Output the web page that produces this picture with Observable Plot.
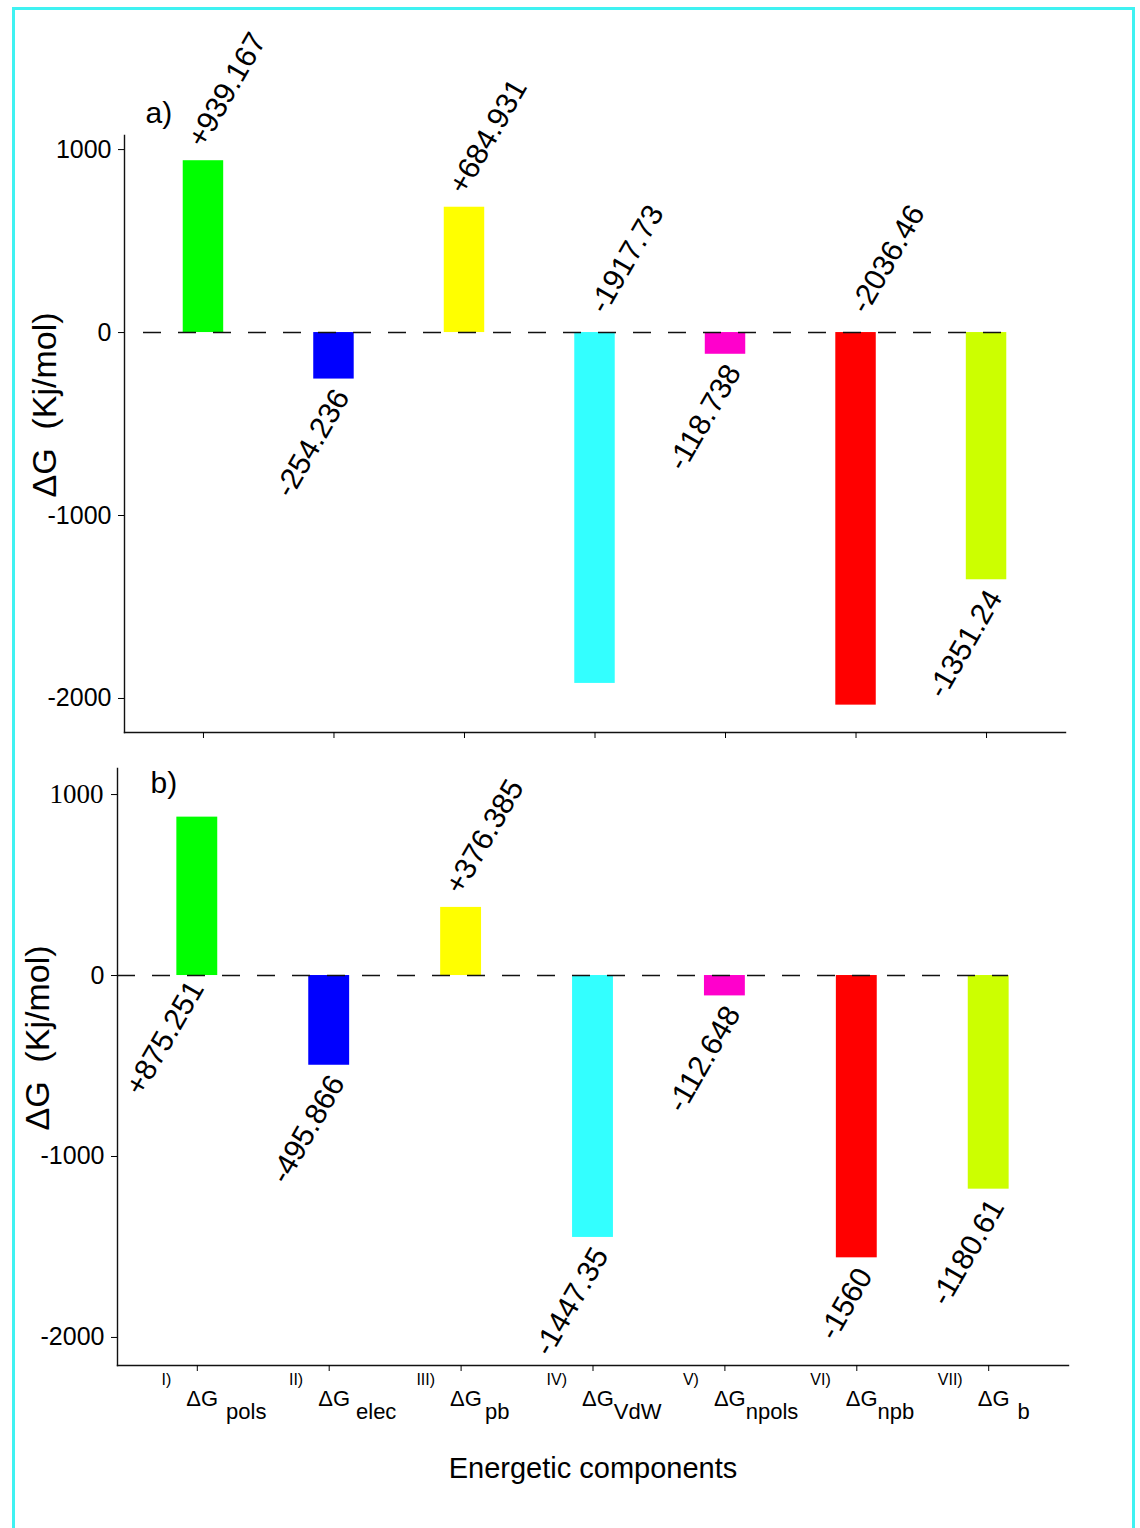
<!DOCTYPE html>
<html><head><meta charset="utf-8">
<script src="https://cdn.jsdelivr.net/npm/d3@7"></script>
<script src="https://cdn.jsdelivr.net/npm/@observablehq/plot@0.6"></script>
<style>
html,body{margin:0;padding:0;background:#fff;}
body{width:1140px;height:1528px;position:relative;overflow:hidden;}
#border{position:absolute;left:12px;top:7px;width:1123px;height:1600px;border:3px solid #3ff2f2;box-sizing:border-box;}
#pa{position:absolute;left:0;top:0;}
#pb{position:absolute;left:0;top:750px;}
svg{overflow:visible;}
</style></head><body>
<div id="border"></div>
<div id="pa"></div><div id="pb"></div>
<script>
// ---- data ----
const categories = ["pols", "elec", "pb", "VdW", "npols", "npb", "b"];
const numerals = ["I)", "II)", "III)", "IV)", "V)", "VI)", "VII)"];
const subscripts = ["pols", "elec", "pb", "VdW", "npols", "npb", "b"];
const valuesA = [939.167, -254.236, 684.931, -1917.73, -118.738, -2036.46, -1351.24];
const valuesB = [875.251, -495.866, 376.385, -1447.35, -112.648, -1560, -1180.61];
const labelsA = ["+939.167", "-254.236", "+684.931", "-1917.73", "-118.738", "-2036.46", "-1351.24"];
const labelsB = ["+875.251", "-495.866", "+376.385", "-1447.35", "-112.648", "-1560", "-1180.61"];
const colors = ["#00ff00", "#0000ff", "#ffff00", "#33ffff", "#ff00cc", "#ff0000", "#ccff00"];
const yTicks = [-2000, -1000, 0, 1000];
const serifTicksB = [1000];
const yLabel = "\u0394G  (Kj/mol)";
const xLabel = "Energetic components";

// ---- layout / style ----
const REG = '"Liberation Sans",Arial,sans-serif';
const SERIF = '"Liberation Serif","DejaVu Serif",serif';
const placeA = ["top", "bottom", "top", "zeroTop", "bottom", "zeroTop", "bottom"];
const placeB = ["zeroBottom", "bottom", "top", "bottom", "bottom", "bottom", "bottom"];
const subGap = [8, 6, 3, 0, 0, 0, 8];
const ROT = -60;

function panel(o) {
  const rows = categories.map((c, i) => ({cat: c, value: o.values[i], label: o.labels[i], place: o.place[i]}));
  const ly = d => d.place.startsWith("zero") ? 0 : d.value;
  const offs = {top: [-18, -22], zeroTop: [-8, -28], bottom: [-2, 7], zeroBottom: [-11, 2]};
  const labelMarks = Object.keys(offs).map(k => Plot.text(rows.filter(d => d.place === k), {
    x: "cat", y: ly, text: "label", rotate: ROT,
    textAnchor: k.endsWith("op") ? "start" : "end", lineAnchor: "top",
    dx: offs[k][0], dy: offs[k][1], fontSize: 30, fontFamily: REG, fill: "#000"
  }));
  const serif = o.serifTicks || [];
  const marks = [
    Plot.barY(rows, {x: "cat", y: "value", fill: "cat"}),
    Plot.ruleY([0], {insetLeft: o.dash[0], insetRight: o.dash[1], stroke: "#111", strokeWidth: 1.4, strokeDasharray: "18,17"}),
    Plot.frame({anchor: "left", stroke: "#111", strokeWidth: 1.4}),
    Plot.frame({anchor: "bottom", stroke: "#111", strokeWidth: 1.4}),
    Plot.axisY({ticks: yTicks, tickSize: 6, tickPadding: 7, tickFormat: d => serif.includes(d) ? "" : String(d), fontSize: 25, fontFamily: REG, label: null}),
    Plot.text(serif, {y: d => d, text: d => String(d), frameAnchor: "left", textAnchor: "end", lineAnchor: "middle", dx: -14, fontSize: 27, fontFamily: SERIF}),
    Plot.axisX({tickSize: 6, tickFormat: () => "", label: null}),
    ...labelMarks,
    Plot.text([o.tag], {frameAnchor: "top-left", text: d => d, dx: o.tagPos[0], dy: o.tagPos[1], textAnchor: "start", lineAnchor: "middle", fontSize: 30, fontFamily: REG}),
    Plot.text([yLabel], {frameAnchor: "left", text: d => d, rotate: -90, dx: -69, dy: -29, textAnchor: "middle", lineAnchor: "bottom", fontSize: 34, fontFamily: REG})
  ];
  if (o.xlabels) {
    marks.push(
      Plot.text(numerals, {x: (d, i) => categories[i], text: d => d, frameAnchor: "bottom", textAnchor: "end", lineAnchor: "middle", dx: -26, dy: 14, fontSize: 16, fontFamily: REG}),
      Plot.text(categories, {x: d => d, text: () => "\u0394G", frameAnchor: "bottom", textAnchor: "start", lineAnchor: "middle", dx: -11, dy: 33, fontSize: 22, fontFamily: REG}),
      Plot.text([xLabel], {frameAnchor: "bottom", text: d => d, textAnchor: "middle", lineAnchor: "middle", dy: 103, fontSize: 29, fontFamily: REG})
    );
  }
  return Plot.plot({
    width: 1140, height: o.height,
    marginLeft: o.m[0], marginRight: o.m[1], marginTop: o.m[2], marginBottom: o.m[3],
    style: {background: "transparent", overflow: "visible", color: "#000"},
    x: {type: "band", domain: categories, paddingInner: 0.69, paddingOuter: 0.45, round: false, label: null},
    y: {domain: o.yDomain, label: null},
    color: {domain: categories, range: colors},
    marks
  });
}

const A = panel({values: valuesA, labels: labelsA, place: placeA, yDomain: [-2186, 1077], height: 750,
  m: [124, 75, 135, 18], dash: [19, 59], tag: "a)", tagPos: [21, -22], xlabels: false});
const B = panel({values: valuesB, labels: labelsB, place: placeB, yDomain: [-2155, 1144], height: 778,
  m: [117, 72, 18, 163], dash: [0, 60], tag: "b)", tagPos: [33, 15], xlabels: true, serifTicks: serifTicksB});

document.getElementById("pa").appendChild(A);
document.getElementById("pb").appendChild(B);

// subscripts on the x tick labels of panel b
let k = 0;
B.querySelectorAll("text").forEach(el => {
  if (el.textContent.trim() === "\u0394G" && k < subscripts.length) {
    d3.select(el).append("tspan").attr("dx", subGap[k]).attr("dy", 13).text(subscripts[k]);
    k++;
  }
});
</script>
</body></html>
